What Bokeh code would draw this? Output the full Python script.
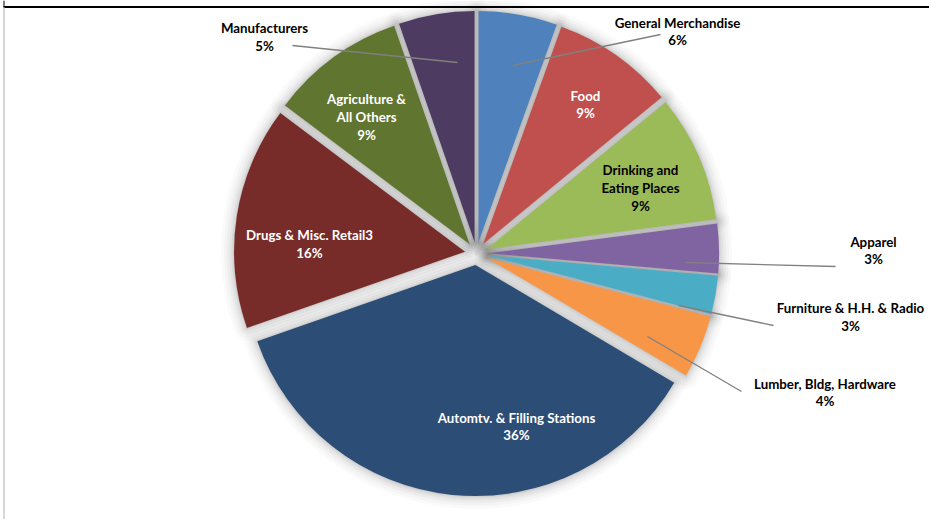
import numpy as np
from bokeh.plotting import figure
from bokeh.models import Range1d, ColumnDataSource
from bokeh.core.properties import value
from bokeh.embed import file_html
from bokeh.resources import INLINE

# ---------------- data ----------------
categories = ["General Merchandise", "Food", "Drinking and\nEating Places", "Apparel",
              "Furniture & H.H. & Radio", "Lumber, Bldg, Hardware",
              "Automtv. & Filling Stations", "Drugs & Misc. Retail3",
              "Agriculture &\nAll Others", "Manufacturers"]
shares = [5.5, 8.55, 8.9, 3.45, 2.7, 4.4, 36.15, 15.6, 9.45, 5.3]
colors = ["#4F81BD", "#C0504D", "#9BBB59", "#8064A2", "#4BACC6",
          "#F79646", "#2C4D75", "#772C2A", "#5F7530", "#4D3B62"]
label_colors = ["black", "white", "black", "black", "black",
                "black", "white", "white", "white", "black"]

# ---------------- layout ----------------
W, H = 929, 519
CX, CY = 476, H - 253          # pie centre (data coords, y up)
R = 231                        # radius
EXPLODE = 11.6                 # every slice pulled out this far

# label block centres, offsets from pie centre in screen pixels (x right, y down)
label_off = [(201, -222), (109, -149), (164, -65.5), (397, -3), (374, 63.5),
             (348.5, 139), (40, 173), (-167, -9.5), (-110, -136.5), (-212, -216.5)]
# leader lines (start, end) offsets from pie centre, only for outside labels
leaders = {0: ((36, -188), (184, -219)),
           3: ((209, 9), (359, 13)),
           4: ((202, 52), (297, 72)),
           5: ((171, 83), (265, 138)),
           9: ((-19, -191), (-184, -208))}

vals = np.array(shares, dtype=float)
frac = vals / vals.sum()
cum = np.concatenate([[0], np.cumsum(frac)]) * 360.0
t1, t2 = cum[:-1], cum[1:]           # clockwise from 12 o'clock
tm = (t1 + t2) / 2
ax = CX + EXPLODE * np.sin(np.radians(tm))
ay = CY + EXPLODE * np.cos(np.radians(tm))
start = np.radians(90 - t2)
end = np.radians(90 - t1)

src = ColumnDataSource(dict(x=ax, y=ay, s=start, e=end, c=colors))

p = figure(width=W, height=H, x_range=Range1d(0, W), y_range=Range1d(0, H),
           output_backend="svg", toolbar_location=None, min_border=0)
p.axis.visible = False
p.grid.visible = False
p.outline_line_color = None
p.background_fill_color = "white"
p.border_fill_color = "white"

# soft shadow
for w, a in [(26, 0.02), (20, 0.025), (14, 0.03), (9, 0.035), (5, 0.045), (2, 0.05)]:
    p.wedge(x="x", y="y", radius=R, start_angle="s", end_angle="e", source=src,
            direction="anticlock", fill_alpha=0, line_color="black",
            line_alpha=a, line_width=w, line_join="round")

p.wedge(x="x", y="y", radius=R, start_angle="s", end_angle="e", source=src,
        direction="anticlock", fill_color="c", line_color=None)

# leader lines
xs, ys = [], []
for i, (a0, a1) in leaders.items():
    xs.append([CX + a0[0], CX + a1[0]])
    ys.append([CY - a0[1], CY - a1[1]])
p.multi_line(xs=xs, ys=ys, line_color="#808080", line_width=1.3)

# labels
pct = [f"{int(np.floor(v * 100 + 0.5))}%" for v in frac]
texts = [f"{c}\n{q}" for c, q in zip(categories, pct)]
lsrc = ColumnDataSource(dict(
    x=[CX + o[0] for o in label_off],
    y=[CY - o[1] for o in label_off],
    t=texts, c=label_colors))
p.text(x="x", y="y", text="t", source=lsrc, text_color="c",
       text_font=value("Lato"), text_font_style="bold", text_font_size="13.3px",
       text_align="center", text_baseline="middle", text_line_height=1.1)

# frame edges
p.segment(x0=[3], y0=[H - 6.5], x1=[W], y1=[H - 6.5], line_color="black", line_width=2)
p.segment(x0=[3.5], y0=[0], x1=[3.5], y1=[H - 6.5], line_color="#b0b0b0", line_width=1)
p.segment(x0=[3.5], y0=[H - 6.5], x1=[3.5], y1=[H], line_color="black", line_width=1)

open("out.html", "w").write(file_html(p, INLINE))
